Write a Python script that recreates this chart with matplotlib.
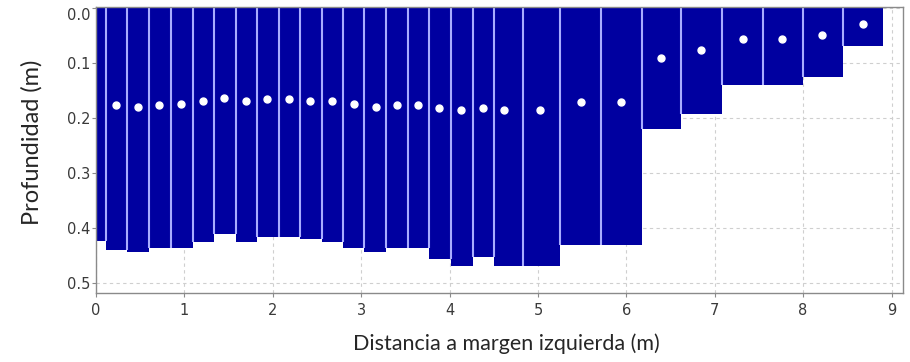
import matplotlib
matplotlib.use("Agg")
import matplotlib.pyplot as plt

# Bar (panel) edges along the section, in metres from the left bank
left_edges = [0.0, 0.11, 0.354, 0.603, 0.848, 1.094, 1.338, 1.584, 1.825, 2.067,
               2.308, 2.553, 2.797, 3.035, 3.281, 3.533, 3.771, 4.016, 4.261, 4.502,
               4.827, 5.249, 5.713, 6.173, 6.618, 7.081, 7.542, 8.002, 8.454]
right_edges = [0.11, 0.354, 0.603, 0.848, 1.094, 1.338, 1.584, 1.825, 2.067, 2.308,
               2.553, 2.797, 3.035, 3.281, 3.533, 3.771, 4.016, 4.261, 4.502, 4.827,
               5.249, 5.713, 6.173, 6.618, 7.081, 7.542, 8.002, 8.454, 8.9]
depths = [0.423, 0.440, 0.443, 0.437, 0.436, 0.425, 0.410, 0.425, 0.416, 0.416,
          0.419, 0.425, 0.437, 0.443, 0.437, 0.437, 0.456, 0.469, 0.452, 0.469,
          0.469, 0.430, 0.430, 0.220, 0.193, 0.140, 0.140, 0.125, 0.069]

# Measurement points (white dots)
point_x = [0.226, 0.471, 0.716, 0.958, 1.207, 1.451, 1.693, 1.937, 2.183, 2.424,
           2.672, 2.918, 3.164, 3.409, 3.639, 3.880, 4.129, 4.374, 4.615, 5.023,
           5.483, 5.940, 6.390, 6.850, 7.316, 7.764, 8.216, 8.680]
point_depth = [0.176, 0.179, 0.176, 0.175, 0.169, 0.164, 0.169, 0.166, 0.166, 0.168,
               0.169, 0.174, 0.179, 0.176, 0.176, 0.182, 0.186, 0.181, 0.186, 0.186,
               0.171, 0.171, 0.090, 0.076, 0.056, 0.056, 0.049, 0.029]

x_ticks = [0, 1, 2, 3, 4, 5, 6, 7, 8, 9]
y_ticks = [0.0, 0.1, 0.2, 0.3, 0.4, 0.5]
x_label = "Distancia a margen izquierda (m)"
y_label = "Profundidad (m)"

fig = plt.figure(figsize=(9.10, 3.62), dpi=100)
ax = fig.add_axes([96 / 910, 1 - 293 / 362, (903 - 96) / 910, (293 - 7) / 362])

widths = [r - l for l, r in zip(left_edges, right_edges)]
ax.bar(left_edges, depths, width=widths, align="edge", bottom=0,
       color="#0000a0", edgecolor="none", linewidth=0, zorder=2)

# light separators between neighbouring panels, down to the shallower one
sep_x = left_edges[1:]
sep_depth = [min(depths[i - 1], depths[i]) for i in range(1, len(depths))]
ax.vlines(sep_x, 0, sep_depth, color="#a8acff", linewidth=1.5, zorder=2.5)

ax.plot(point_x, point_depth, linestyle="none", marker="o", markersize=5,
        markerfacecolor="white", markeredgecolor="white", zorder=3)

ax.set_xlim(0, 9.13)
ax.set_ylim(0.518, -0.002)
ax.set_xticks(x_ticks)
ax.set_xticklabels([str(t) for t in x_ticks])
ax.set_yticks(y_ticks)
ax.set_yticklabels([f"{t:.1f}" for t in y_ticks])

ax.set_axisbelow(True)
ax.grid(True, color="#cfcfcf", linestyle=(0, (3, 3)), linewidth=0.8, zorder=0)

for s in ax.spines.values():
    s.set_color("#8a8a8a")
    s.set_linewidth(1.0)

ax.tick_params(axis="both", length=3, width=0.8, color="#8a8a8a",
               labelsize=10.5, labelcolor="#3a3a3a")
ax.tick_params(axis="y", pad=1)
ax.tick_params(axis="x", pad=4)
ax.get_yticklabels()[0].set_verticalalignment("top")

ax.set_xlabel(x_label, fontsize=15.5, family=["Lato", "DejaVu Sans"],
              color="#262626")
ax.set_ylabel(y_label, fontsize=17, family=["Lato", "DejaVu Sans"],
              color="#262626")
ax.xaxis.set_label_coords(0.508, -0.14)
ax.yaxis.set_label_coords(-0.066, 0.526)

fig.savefig("out.png", dpi=100)
